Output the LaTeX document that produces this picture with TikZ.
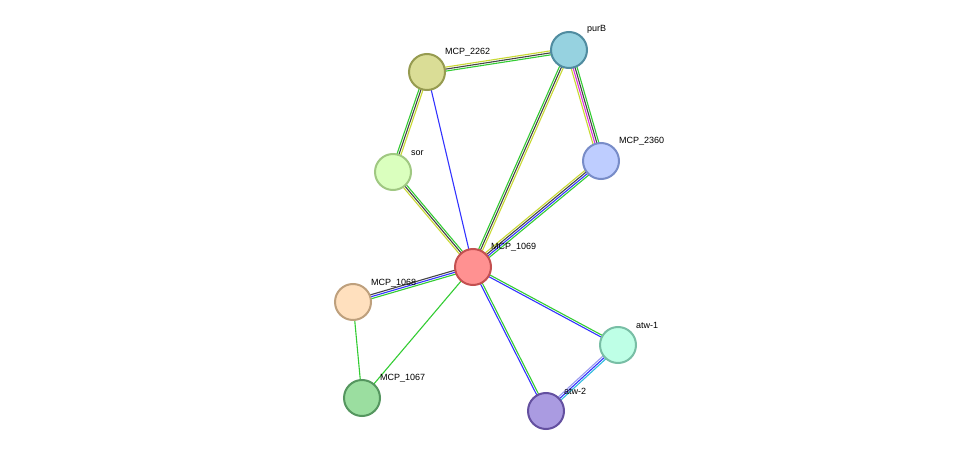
\documentclass[tikz,border=0pt]{standalone}
\usepackage{fontspec}
\setmainfont{Liberation Sans}
\usetikzlibrary{calc}
\definecolor{eg}{HTML}{33CC33}
\definecolor{ey}{HTML}{C8D932}
\definecolor{ek}{HTML}{444444}
\definecolor{eb}{HTML}{3333FF}
\definecolor{em}{HTML}{DD33DD}
\definecolor{ec}{HTML}{33BBDD}
\definecolor{el}{HTML}{9999EE}
\newcommand{\medge}[3]{%
  \foreach \c [count=\i] in {#3}{\xdef\nn{\i}}%
  \foreach \c [count=\i] in {#3}{%
    \pgfmathsetmacro{\off}{(\i-(\nn+1)/2)*2}%
    \draw[\c,line width=1.1pt] ($(#1)!\off pt!90:(#2)$) -- ($(#2)!\off pt!-90:(#1)$);}}
\tikzset{prot/.style={circle,minimum size=36pt,line width=2pt,inner sep=0pt},
 lab/.style={font=\fontsize{9pt}{10pt}\selectfont,anchor=south west,inner sep=1pt}}
\begin{document}
\begin{tikzpicture}[x=1pt,y=-1pt]
\useasboundingbox (0,0) rectangle (975,457);
\coordinate (m2262) at (427,72);
\coordinate (purB) at (569,50);
\coordinate (sor) at (393,172);
\coordinate (m2360) at (601,161);
\coordinate (m1069) at (473,267);
\coordinate (m1068) at (353,302);
\coordinate (atw1) at (618,345);
\coordinate (m1067) at (362,398);
\coordinate (atw2) at (546,411);
\medge{m2262}{purB}{eg,ek,ey}
\medge{m2262}{sor}{eg,ek,ey}
\medge{m2262}{m1069}{eb}
\medge{purB}{m1069}{eg,ek,ey}
\medge{purB}{m2360}{ey,em,ek,eg}
\medge{sor}{m1069}{ey,ek,eg}
\medge{m2360}{m1069}{ey,ek,eb,eg}
\medge{m1069}{m1068}{ek,eb,eg}
\medge{m1069}{m1067}{eg}
\medge{m1068}{m1067}{eg}
\medge{m1069}{atw1}{eb,eg}
\medge{m1069}{atw2}{eb,eg}
\medge{atw1}{atw2}{el,eb,ec}
\node[prot,fill={rgb,255:red,218;green,221;blue,150},draw={rgb,255:red,150;green,155;blue,80}] (n2262) at (m2262) {};
\node[prot,fill={rgb,255:red,150;green,210;blue,224},draw={rgb,255:red,80;green,140;blue,160}] (npurB) at (purB) {};
\node[prot,fill={rgb,255:red,218;green,255;blue,190},draw={rgb,255:red,160;green,200;blue,130}] (nsor) at (sor) {};
\node[prot,fill={rgb,255:red,190;green,205;blue,255},draw={rgb,255:red,120;green,140;blue,200}] (n2360) at (m2360) {};
\node[prot,fill={rgb,255:red,255;green,145;blue,145},draw={rgb,255:red,195;green,80;blue,80}] (n1069) at (m1069) {};
\node[prot,fill={rgb,255:red,255;green,224;blue,190},draw={rgb,255:red,190;green,160;blue,125}] (n1068) at (m1068) {};
\node[prot,fill={rgb,255:red,190;green,255;blue,230},draw={rgb,255:red,120;green,190;blue,165}] (natw1) at (atw1) {};
\node[prot,fill={rgb,255:red,155;green,222;blue,160},draw={rgb,255:red,85;green,150;blue,95}] (n1067) at (m1067) {};
\node[prot,fill={rgb,255:red,170;green,155;blue,225},draw={rgb,255:red,100;green,80;blue,160}] (natw2) at (atw2) {};
\node[lab] at (444,57) {MCP\_2262};
\node[lab] at (586,35) {purB};
\node[lab] at (410,157) {sor};
\node[lab] at (618,146) {MCP\_2360};
\node[lab] at (490,252) {MCP\_1069};
\node[lab] at (370,288) {MCP\_1068};
\node[lab] at (635,330) {atw-1};
\node[lab] at (379,383) {MCP\_1067};
\node[lab] at (563,396) {atw-2};
\end{tikzpicture}
\end{document}
